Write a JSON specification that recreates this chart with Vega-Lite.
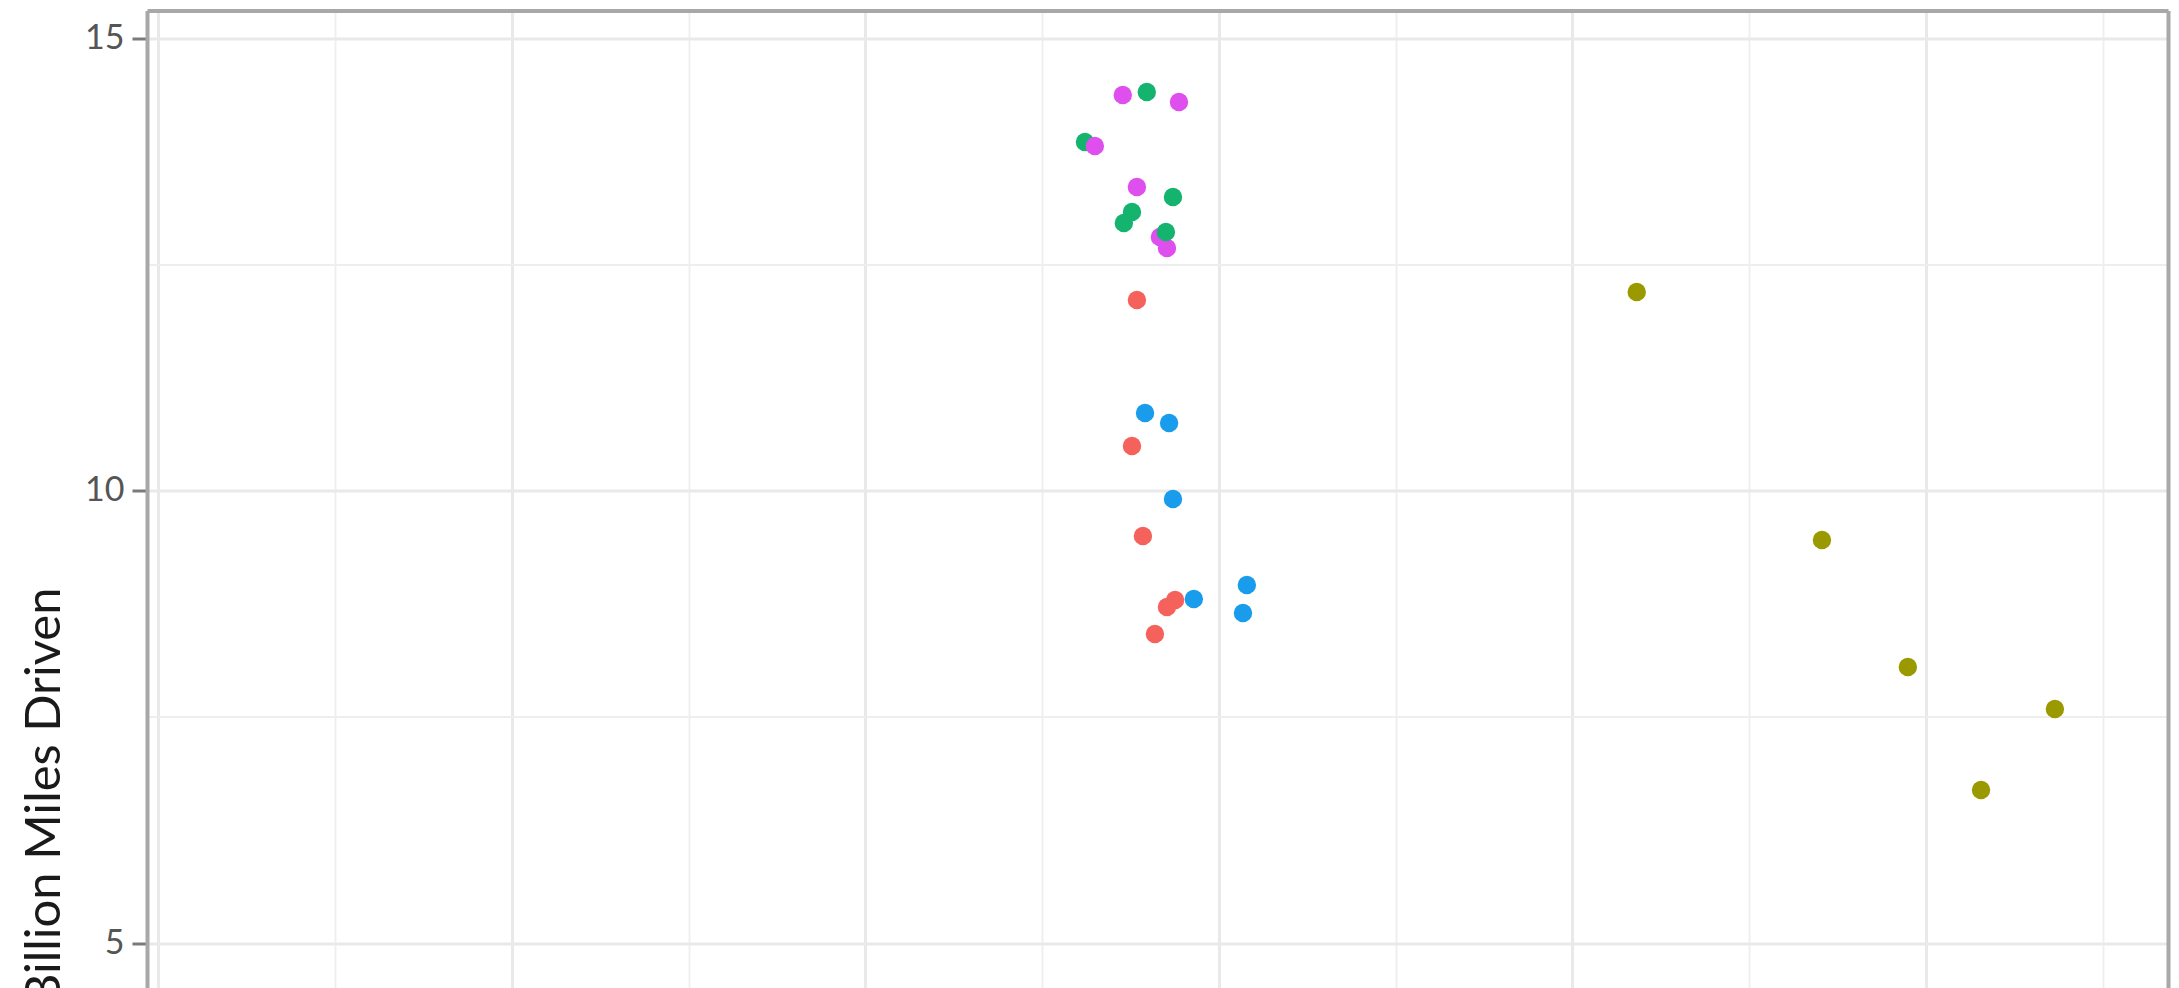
{
  "$schema": "https://vega.github.io/schema/vega-lite/v6.json",
  "width": 2021,
  "height": 977.5,
  "autosize": {"type": "none"},
  "padding": {"left": 147, "top": 10.5, "right": 11, "bottom": 0},
  "background": "white",
  "config": {"view": {"stroke": null}, "font": "Lato"},
  "data": {
    "values": [
      {"x": 2.768, "y": 12.105, "group": "A"},
      {"x": 2.754, "y": 10.492, "group": "A"},
      {"x": 2.785, "y": 9.497, "group": "A"},
      {"x": 2.853, "y": 8.713, "group": "A"},
      {"x": 2.876, "y": 8.790, "group": "A"},
      {"x": 2.819, "y": 8.414, "group": "A"},
      {"x": 4.182, "y": 12.193, "group": "B"},
      {"x": 4.706, "y": 9.453, "group": "B"},
      {"x": 4.949, "y": 8.050, "group": "B"},
      {"x": 5.365, "y": 7.586, "group": "B"},
      {"x": 5.156, "y": 6.691, "group": "B"},
      {"x": 2.796, "y": 14.403, "group": "C"},
      {"x": 2.621, "y": 13.851, "group": "C"},
      {"x": 2.870, "y": 13.243, "group": "C"},
      {"x": 2.754, "y": 13.077, "group": "C"},
      {"x": 2.731, "y": 12.956, "group": "C"},
      {"x": 2.791, "y": 10.856, "group": "D"},
      {"x": 2.859, "y": 10.746, "group": "D"},
      {"x": 2.870, "y": 9.906, "group": "D"},
      {"x": 3.079, "y": 8.956, "group": "D"},
      {"x": 2.929, "y": 8.801, "group": "D"},
      {"x": 3.068, "y": 8.646, "group": "D"},
      {"x": 2.728, "y": 14.370, "group": "E"},
      {"x": 2.887, "y": 14.293, "group": "E"},
      {"x": 2.649, "y": 13.807, "group": "E"},
      {"x": 2.768, "y": 13.354, "group": "E"},
      {"x": 2.833, "y": 12.801, "group": "E"},
      {"x": 2.853, "y": 12.680, "group": "E"},
      {"x": 2.850, "y": 12.856, "group": "C"}
    ]
  },
  "layer": [
    {
      "mark": {"type": "circle", "opacity": 0},
      "encoding": {
        "x": {
          "field": "x", "type": "quantitative",
          "scale": {"domain": [-0.0325, 5.685], "nice": false, "zero": false},
          "axis": {
            "orient": "top", "values": [0.5, 1.5, 2.5, 3.5, 4.5, 5.5],
            "grid": true, "gridColor": "#eeeeee", "gridWidth": 1.8,
            "labels": false, "ticks": false,
            "domain": true, "domainColor": "#a8a8a8", "domainWidth": 4,
            "title": null
          }
        },
        "y": {
          "field": "y", "type": "quantitative",
          "scale": {"domain": [4.503, 15.304], "nice": false, "zero": false},
          "axis": {
            "orient": "right", "values": [7.5, 12.5],
            "grid": true, "gridColor": "#eeeeee", "gridWidth": 1.8,
            "labels": false, "ticks": false,
            "domain": true, "domainColor": "#a8a8a8", "domainWidth": 4,
            "title": null
          }
        }
      }
    },
    {
      "mark": {"type": "circle", "opacity": 1, "size": 340},
      "encoding": {
        "x": {
          "field": "x", "type": "quantitative",
          "axis": {
            "orient": "bottom", "values": [0, 1, 2, 3, 4, 5],
            "grid": true, "gridColor": "#e9e9e9", "gridWidth": 3,
            "labels": false, "ticks": false, "domain": false,
            "title": null
          }
        },
        "y": {
          "field": "y", "type": "quantitative",
          "axis": {
            "orient": "left", "values": [5, 10, 15],
            "grid": true, "gridColor": "#e9e9e9", "gridWidth": 3,
            "labels": true, "labelFont": "Lato", "labelFontSize": 34,
            "labelColor": "#555555", "labelPadding": 8,
            "labelOverlap": false, "labelFlush": false,
            "ticks": true, "tickSize": 15, "tickWidth": 3, "tickColor": "#7a7a7a",
            "domain": true, "domainColor": "#a8a8a8", "domainWidth": 4,
            "title": "Billion Miles Driven",
            "titleFont": "Lato", "titleFontSize": 49, "titleFontWeight": "normal",
            "titleColor": "#1a1a1a", "titleAngle": -90,
            "titleAlign": "right", "titleBaseline": "alphabetic",
            "titleX": -88, "titleY": 576.5
          }
        },
        "color": {
          "field": "group", "type": "nominal",
          "scale": {
            "domain": ["A", "B", "C", "D", "E"],
            "range": ["#F5625B", "#9A9A00", "#14B46E", "#1A9CEC", "#DE4FEE"]
          },
          "legend": null
        }
      }
    }
  ],
  "resolve": {"axis": {"x": "independent", "y": "independent"}}
}
